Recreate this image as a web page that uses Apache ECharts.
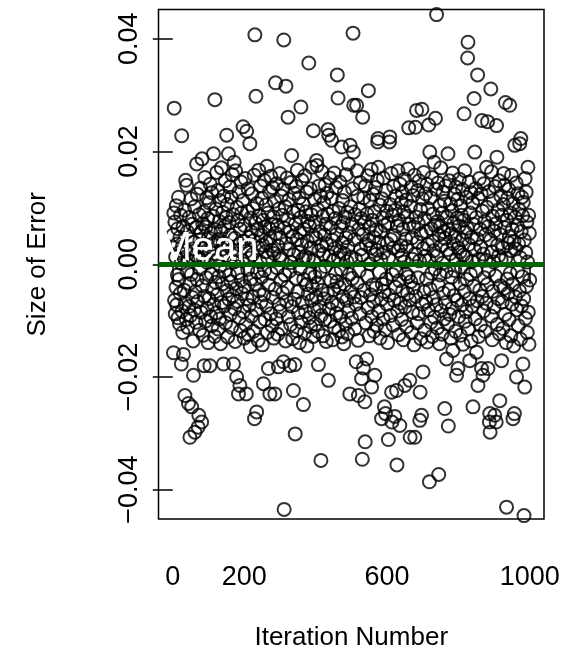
<!DOCTYPE html>
<html>
<head>
<meta charset="utf-8">
<script src="https://cdn.jsdelivr.net/npm/echarts@6/dist/echarts.min.js"></script>
<style>
html,body{margin:0;padding:0;background:#fff;}
#chart{width:567px;height:670px;}
</style>
</head>
<body>
<div id="chart"></div>
<script>
// Size of error at each iteration (iteration number = position + 1)
const errorValues = [
.0052,-.0157,.0091,.0277,-.0064,.0075,-.0088,.0013,-.0041,.0104,-.0072,.0036,-.0019,.0063,-.0095,.0119,-.0027,.0021,-.0106,.0048,
-.0052,.0087,.0002,-.0177,.0228,-.0083,.0031,-.0121,.0067,-.016,.0012,-.0046,.0096,-.0233,-.0069,.0149,.0025,-.0098,.014,-.0013,
.0058,-.0112,.0007,-.0247,-.0075,.0083,-.0034,-.0307,.0045,-.0091,.0116,-.0018,-.0253,.0071,-.0059,.0027,-.0136,-.0197,.0039,-.0081,
.0102,-.0298,-.0049,.0016,-.0103,.0065,.0178,-.0027,.0124,-.0066,-.0289,.0009,-.0268,.0088,-.0117,.0043,-.0008,.0135,-.0085,.0057,
-.028,.0187,-.0038,.0072,-.0126,.0011,.0093,-.018,-.0057,.0154,.0029,-.0101,.0066,-.0024,.0118,-.0078,.0003,.0081,-.0139,.0047,
-.0061,.0109,.0024,-.018,.0142,-.0093,.0055,-.0017,.0127,-.0109,.0036,-.0044,.0085,.0196,-.0071,.0019,-.0128,.0292,.0061,-.0032,
.0098,-.0086,.0163,.0008,-.0054,.0131,-.0115,.0044,-.0022,.0076,-.0097,.0113,-.0003,-.0141,.0059,.0171,-.0068,.0027,-.0035,.0092,
.0039,-.0177,.0121,-.0074,.0067,-.0012,.0148,-.0104,.0015,.0083,.0229,-.0047,.0106,-.0129,.0033,.0196,-.0062,.0074,-.0019,.0137,
-.0089,.0052,-.0031,.0119,-.0112,.0026,.0159,-.0056,.0088,-.0177,.0004,.0181,-.0079,.0046,-.0137,.0166,.0018,-.0043,-.02,.0101,
-.0066,.0077,-.0015,-.023,.0128,-.0095,.0035,-.0215,.0062,-.0118,.0146,-.0028,.0091,-.0052,.0007,.0113,.0244,-.0084,.0041,-.0131,
.0069,-.0039,.0152,-.0107,.0023,-.023,.0236,-.0061,.0094,-.0009,.0134,-.0125,.0048,-.0073,.0011,.0214,-.0146,.0082,-.0026,.0057,
-.0092,.0125,.0017,-.0058,.0099,-.0119,.0042,.0158,-.0274,.0407,-.0035,.0073,.0298,-.0081,-.0262,.0108,-.0014,.0061,-.0135,.0029,
.0167,-.0047,.0086,-.0102,.0004,.0139,-.0067,.0051,-.0023,.0117,-.0143,.0034,.0078,-.0212,-.0054,.0149,-.0011,.0066,-.0098,.0022,
.0105,-.0073,.0038,.0174,-.0121,.0012,.0091,-.0185,-.0037,.0063,.0129,-.023,.0046,-.0088,.0156,-.0016,.0071,-.0109,.0025,.0136,
-.0059,.0084,-.0131,.0019,.0112,-.023,-.0044,.0322,.0055,-.0097,.0143,-.0006,.0069,-.0124,.0032,-.0182,.0098,-.0071,.0015,.0161,
-.0083,.0047,-.0028,.0121,-.0114,.0008,.0087,-.0051,.0133,-.0173,.0398,-.0435,.0064,-.0019,.0102,-.0136,.0316,.0037,-.0066,.0153,
-.0041,.0079,.0261,-.0093,.0026,.0115,-.0012,-.018,.0058,-.0107,.0145,.0003,.0193,-.0075,.0049,-.0132,.0092,-.0224,.0017,.0126,
-.0062,-.0178,-.0301,.0072,-.0025,.0138,-.0118,.0044,.0167,-.0049,.0096,-.0086,.0021,.0118,-.0139,.0056,-.0008,.0083,.0279,-.0103,
.0035,.0149,-.0068,.0009,.0107,-.0249,-.0027,.0062,-.0122,.0157,.0014,-.0084,.0093,-.0036,.0128,-.0145,.0041,.0076,-.0053,.0011,
.0357,-.0095,.0068,-.0017,.0134,-.0111,.0029,.0088,-.0064,.0172,-.0039,.0051,-.0128,.0237,.0006,-.0081,.0115,-.0022,.0074,-.0106,
.0046,-.0058,.0184,.0175,-.0033,.0097,-.0119,-.0178,.0024,.0139,-.0075,.0058,-.0013,.0121,-.0348,-.0091,.0033,.0164,-.0046,.0085,
-.0127,.0018,.0109,-.0061,.0052,-.0098,.0141,-.0004,.0071,-.0137,.0036,.0126,-.0052,.0089,.0239,-.0206,.0229,-.0079,.0014,.0153,
-.0101,.0065,-.0029,.0117,.022,-.0068,.0043,-.0134,.0094,.0007,-.0045,.0162,-.0112,.0028,.0081,-.0016,.0136,-.0087,.0053,-.0031,
.0336,-.0072,.0295,.0011,-.0118,.0099,-.0041,.0146,.0022,-.0093,.0067,-.0009,.0208,-.0129,.0038,.0113,-.0057,.0074,-.0141,.0019,
.0128,-.0036,.0084,-.0106,.0047,.0159,-.0064,.0005,.0092,-.0123,.0031,.0178,-.0082,.0056,-.0018,-.023,.0211,.0102,-.0049,.0013,
-.0096,.0071,-.0025,.0134,.041,.0199,.0282,-.0058,.0044,-.0115,.0088,.0009,-.0071,-.0173,.0282,.0166,-.0033,.0121,-.0135,-.0233,
.0062,-.0012,.0097,-.0088,.0145,.0027,-.0059,.0081,-.0203,.0016,-.0346,.0261,.0053,-.0184,.0118,-.0046,.0074,-.0244,-.0315,.0139,
-.0104,.0035,-.0168,.0089,-.0021,.0157,-.0077,.0308,.0042,-.0127,.0066,.0001,.0113,-.0054,.0029,.0168,-.0218,-.0093,.0078,-.0037,
.0124,-.0066,.0048,-.0119,.0093,-.0197,.0017,.0136,-.0042,.0061,-.0108,.0025,.0149,.0217,.0223,.0172,-.0083,.0039,-.0014,.0105,
-.0131,.0058,.0008,-.0062,-.0274,.0116,-.0035,.0082,-.0097,.0153,.0021,-.0048,-.0253,.0069,-.0116,-.0265,.0131,-.0026,.0094,-.0071,
.0037,-.0139,.0073,-.0311,.0012,-.0055,.0217,.0226,.0106,-.0091,.0044,.0161,-.0227,-.028,-.0018,.0087,-.0108,.0029,.0138,-.0064,
.0051,-.027,.0096,-.0041,.0121,-.0012,-.0224,-.0356,.0068,-.0083,.0166,.0024,-.0125,.0078,-.0029,-.0286,.0142,-.0069,.0033,.0109,
-.0098,.0016,.0127,-.0047,.0062,-.0134,.0093,.0004,.0151,-.0215,-.0076,.0045,-.0017,.0114,-.0111,.0031,.0085,-.0052,.0169,-.0022,
.0242,.0071,-.0063,-.0206,-.0307,.0103,-.0031,.0137,-.0121,.0047,.0009,-.0085,.0122,-.0042,.0066,-.0143,.0158,-.0307,.0018,.0243,
-.0057,.0084,.0273,-.0104,.0039,.0131,-.0024,.0072,-.0088,.0148,.0006,-.0277,-.0227,.0097,-.0132,.0054,-.0268,.0275,-.0071,.0116,
-.0191,.0028,.0163,-.0049,.0081,-.0117,.0014,.0125,-.0066,.0058,-.0026,.0142,-.0138,.0035,.0099,-.0081,.0247,.0007,-.0386,.0199,
-.0044,.0118,-.0103,.0063,-.0016,.0154,-.0128,.0041,.0089,-.0059,.0024,.0181,-.0094,.0069,-.0008,.0259,.0133,-.0072,.0443,.0015,
-.0113,.0076,.0144,-.0037,-.0373,.0052,-.0141,.0104,-.0019,.0067,.0171,-.0082,.0033,-.0124,.0091,.0002,.0128,-.0051,.0058,-.0097,
.0112,-.0256,.0046,-.0068,.0139,-.0013,-.0168,.0083,.0026,-.0106,.0196,-.0287,.0061,-.0045,.0148,-.0089,.0019,.0107,-.0131,.0054,
-.0023,.0095,-.0078,.0162,-.0153,.0036,.0073,-.0056,.0124,-.0011,.0049,-.0119,.0137,.0008,-.0197,.0082,-.0064,.0115,-.0185,.0029,
-.0093,.0068,.0151,-.0034,.0022,-.0126,.0104,-.0005,.0087,-.0072,.0043,.0132,-.0142,.0016,.0078,.0267,-.0048,.0166,-.0101,.0057,
.0013,-.0084,.0119,-.0027,.0064,.0366,.0394,-.0115,.0035,.0146,-.0061,-.0171,.0091,-.0018,.0127,-.0136,.0048,.0005,-.0074,.0109,
-.0253,.0071,-.0039,.0294,.0026,.0199,-.0097,.0134,-.0012,.0083,-.0156,.0045,-.0065,.0336,-.0215,.0117,-.0128,.0009,.0152,-.0046,
.0062,-.0108,.0031,.0125,-.0185,.0255,-.0057,.0094,-.0197,.0018,-.0083,.0143,-.0024,.0076,-.0119,.0052,.0007,-.0069,.0172,.0101,
-.0036,.0253,-.0185,.0067,-.0011,.0129,-.028,-.0265,-.0298,.0043,.0311,-.0092,.0164,.0022,-.0134,.0085,-.0048,.0113,.0004,-.0076,
.0059,-.0268,.0138,-.0021,.0072,-.028,.0246,.019,-.0107,.0034,.0096,-.0061,.0015,.0148,-.0123,-.0242,.0053,-.0038,.0121,.0008,
-.0171,.0087,-.0067,.0029,-.0114,.0106,.0161,-.0043,.0065,.014,-.0089,.0287,.0011,-.0139,-.0431,.0078,-.0026,.0117,-.0052,.0038,
.0133,-.0098,.0049,.0282,-.0016,.0091,-.0127,.0024,.0158,-.0071,.0062,-.0035,-.0274,.0108,-.0145,.0041,-.0265,.0211,.0083,-.0058,
.0027,.0144,-.02,-.0081,.0069,-.0013,.0125,-.0109,.0036,.0097,-.0047,.0214,.0012,-.0133,.0223,.0058,-.0074,.0119,-.0022,.0086,
-.0177,.011,-.0061,-.0446,.0043,-.0218,.0152,-.0096,.0021,.0128,-.0039,.0075,-.0121,.0004,.0172,-.0085,.0087,-.0142,.0055,-.0028
];
const meanError = -0.0001;
const xTickValues = [0, 200, 400, 600, 800, 1000];
const xLabelValues = [0, 200, 600, 1000];
const yTickValues = [-0.04, -0.02, 0, 0.02, 0.04];
const xTitle = 'Iteration Number';
const yTitle = 'Size of Error';
const meanLabel = 'Mean';

const FONT = '"Liberation Sans", Arial, Helvetica, sans-serif';
const points = errorValues.map((v, i) => [i + 1, v]);

const chart = echarts.init(document.getElementById('chart'), null, {renderer: 'canvas'});
chart.setOption({
  backgroundColor: '#fff',
  animation: false,
  grid: {
    left: 158.5, right: 23, top: 9.5, bottom: 151,
    show: true, borderColor: '#000', borderWidth: 1.5, backgroundColor: 'transparent'
  },
  xAxis: {
    type: 'value', min: -39.96, max: 1039.96,
    name: xTitle, nameLocation: 'middle', nameGap: 106,
    nameTextStyle: {fontFamily: FONT, fontSize: 26, color: '#000'},
    axisLine: {show: false},
    axisTick: {show: true, inside: false, length: 20, customValues: xTickValues,
      lineStyle: {color: '#000', width: 1.5}},
    axisLabel: {customValues: xLabelValues, margin: 45, fontFamily: FONT, fontSize: 27, color: '#000',
      showMinLabel: true, showMaxLabel: true, formatter: v => String(v)},
    splitLine: {show: false}
  },
  yAxis: {
    type: 'value', min: -0.0452, max: 0.0452,
    name: yTitle, nameLocation: 'middle', nameGap: 108,
    nameTextStyle: {fontFamily: FONT, fontSize: 26, color: '#000'},
    axisLine: {show: false},
    axisTick: {show: true, inside: false, length: 20, customValues: yTickValues,
      lineStyle: {color: '#000', width: 1.5}},
    axisLabel: {customValues: yTickValues, rotate: 90, margin: 15, fontFamily: FONT, fontSize: 27, color: '#000',
      formatter: v => (Math.abs(v) < 1e-12 ? '0.00' : v.toFixed(2).replace('-', '\u2212'))},
    splitLine: {show: false}
  },
  series: [
    {
      type: 'scatter',
      data: points,
      symbol: 'circle',
      symbolSize: 13,
      clip: true,
      itemStyle: {color: 'transparent', borderColor: '#000', borderWidth: 2},
      emphasis: {disabled: true},
      silent: true,
      z: 2
    },
    {
      type: 'scatter',
      data: [],
      z: 5,
      silent: true,
      markLine: {
        silent: true,
        symbol: ['none', 'none'],
        lineStyle: {color: '#006400', width: 5, type: 'solid'},
        label: {show: true, position: 'insideStartTop', formatter: meanLabel, color: '#fff',
          fontFamily: FONT, fontSize: 40, distance: [0, -5]},
        emphasis: {disabled: true},
        data: [{yAxis: meanError}]
      }
    }
  ]
});
</script>
</body>
</html>
